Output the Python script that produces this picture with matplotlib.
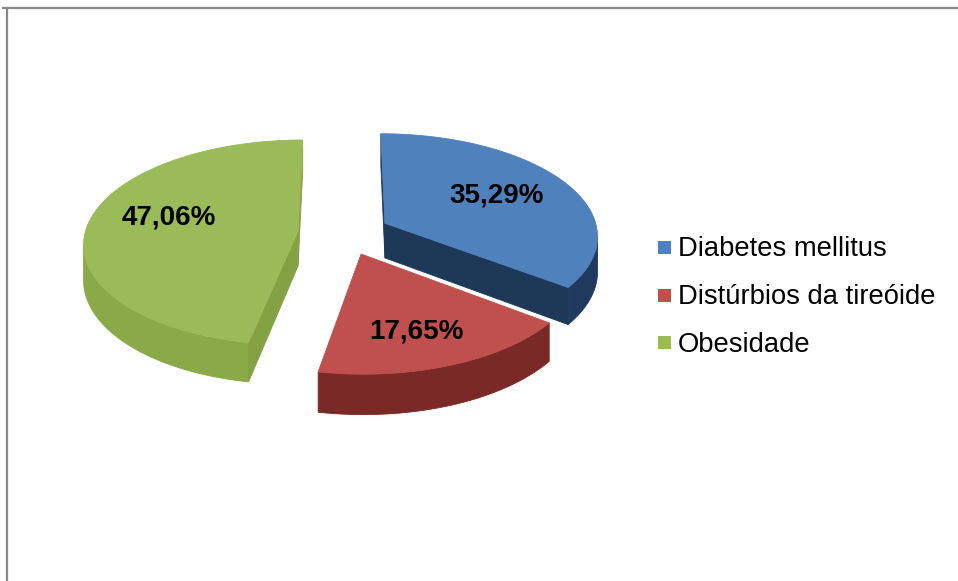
import numpy as np
import matplotlib.pyplot as plt
from matplotlib.patches import Polygon, Rectangle
from matplotlib.lines import Line2D

plt.rcParams['font.family'] = ['Liberation Sans', 'DejaVu Sans']

categories = ['Diabetes mellitus', 'Distúrbios da tireóide', 'Obesidade']
values = [35.29, 17.65, 47.06]
value_labels = ['35,29%', '17,65%', '47,06%']

top_colors = ['#4f81bd', '#c0504d', '#9bbb59']
side_colors = ['#1f3a5e', '#7a2926', '#8aa947']
cut_colors = ['#1e3858', '#6e2422', '#84a143']

# pie geometry (pixels): centre, radii, perspective, thickness, explode
W, H = 958, 581
cx, cy = 344, 233
rx, ry = 213, 101.6
persp = 0.112
depth = 35
explode = 0.217
cam = np.array([0.0, -1.0 / persp])

# nudges for the percentage labels (pixels)
label_nudge = [(3, -4.5), (4, 11), (-3, -11)]


def project(X, Z, h=0.0):
    s = 1.0 / (1.0 + persp * Z)
    return cx + rx * X * s, cy - ry * Z * s + h * depth * s


def unit(t):
    return np.array([np.sin(t), np.cos(t)])


fig = plt.figure(figsize=(W / 100, H / 100), dpi=100)
ax = fig.add_axes((0, 0, 1, 1))
ax.set_xlim(0, W)
ax.set_ylim(H, 0)
ax.axis('off')

# chart frame (only top and left edges fall inside the image)
fig.add_artist(Line2D([3 / W, 1], [1 - 8 / H, 1 - 8 / H], color='#8a8a8a', lw=1.6))
fig.add_artist(Line2D([7 / W, 7 / W], [0, 1 - 8 / H], color='#8a8a8a', lw=1.6))

fracs = np.array(values) / sum(values)
bounds = np.concatenate([[0], np.cumsum(fracs)]) * 2 * np.pi

slices = []
for i in range(len(values)):
    ta, tb = bounds[i], bounds[i + 1]
    mid = 0.5 * (ta + tb)
    c = explode * unit(mid)
    slices.append((i, ta, tb, mid, c))

# back slices first
slices.sort(key=lambda s: -s[4][1])

for i, ta, tb, mid, c in slices:
    th = np.linspace(ta, tb, 240)

    # outer wall: one polygon per run of angles that faces the viewer
    vis = np.array([np.dot(cam - (c + unit(t)), unit(t)) > 0 for t in th])
    runs = []
    start = None
    for k, v in enumerate(vis):
        if v and start is None:
            start = k
        if (not v or k == len(vis) - 1) and start is not None:
            end = k if v else k - 1
            runs.append((start, end))
            start = None
    for s0, s1 in runs:
        if s1 <= s0:
            continue
        seg = th[s0:s1 + 1]
        upper = [project(*(c + unit(t))) for t in seg]
        lower = [project(*(c + unit(t)), 1) for t in seg[::-1]]
        ax.add_patch(Polygon(upper + lower, closed=True, fc=side_colors[i],
                             ec=side_colors[i], lw=0.6))

    # radial cut faces
    for t, n in ((ta, np.array([-np.cos(ta), np.sin(ta)])),
                 (tb, np.array([np.cos(tb), -np.sin(tb)]))):
        e = c + unit(t)
        m = 0.5 * (c + e)
        if np.dot(cam - m, n) <= 0:
            continue
        quad = [project(*c), project(*e), project(*e, 1), project(*c, 1)]
        ax.add_patch(Polygon(quad, closed=True, fc=cut_colors[i],
                             ec=cut_colors[i], lw=0.6))

    # top face
    pts = [project(*c)] + [project(*(c + unit(t))) for t in th]
    ax.add_patch(Polygon(pts, closed=True, fc=top_colors[i],
                         ec=top_colors[i], lw=0.6))

    # percentage label
    lp = c + 0.6 * unit(mid)
    lx, ly = project(*lp)
    lx += label_nudge[i][0]
    ly += label_nudge[i][1]
    ax.text(lx, ly + 10, value_labels[i], ha='center', va='baseline',
            fontsize=20, fontweight='bold', color='black')

# legend
for k, name in enumerate(categories):
    base = 256.5 + 47.6 * k
    ax.add_patch(Rectangle((658, base - 15.5), 13, 13, fc=top_colors[k], ec='none'))
    ax.text(678, base, name, ha='left', va='baseline', fontsize=19.7, color='black')

fig.savefig('out.png', dpi=100)
